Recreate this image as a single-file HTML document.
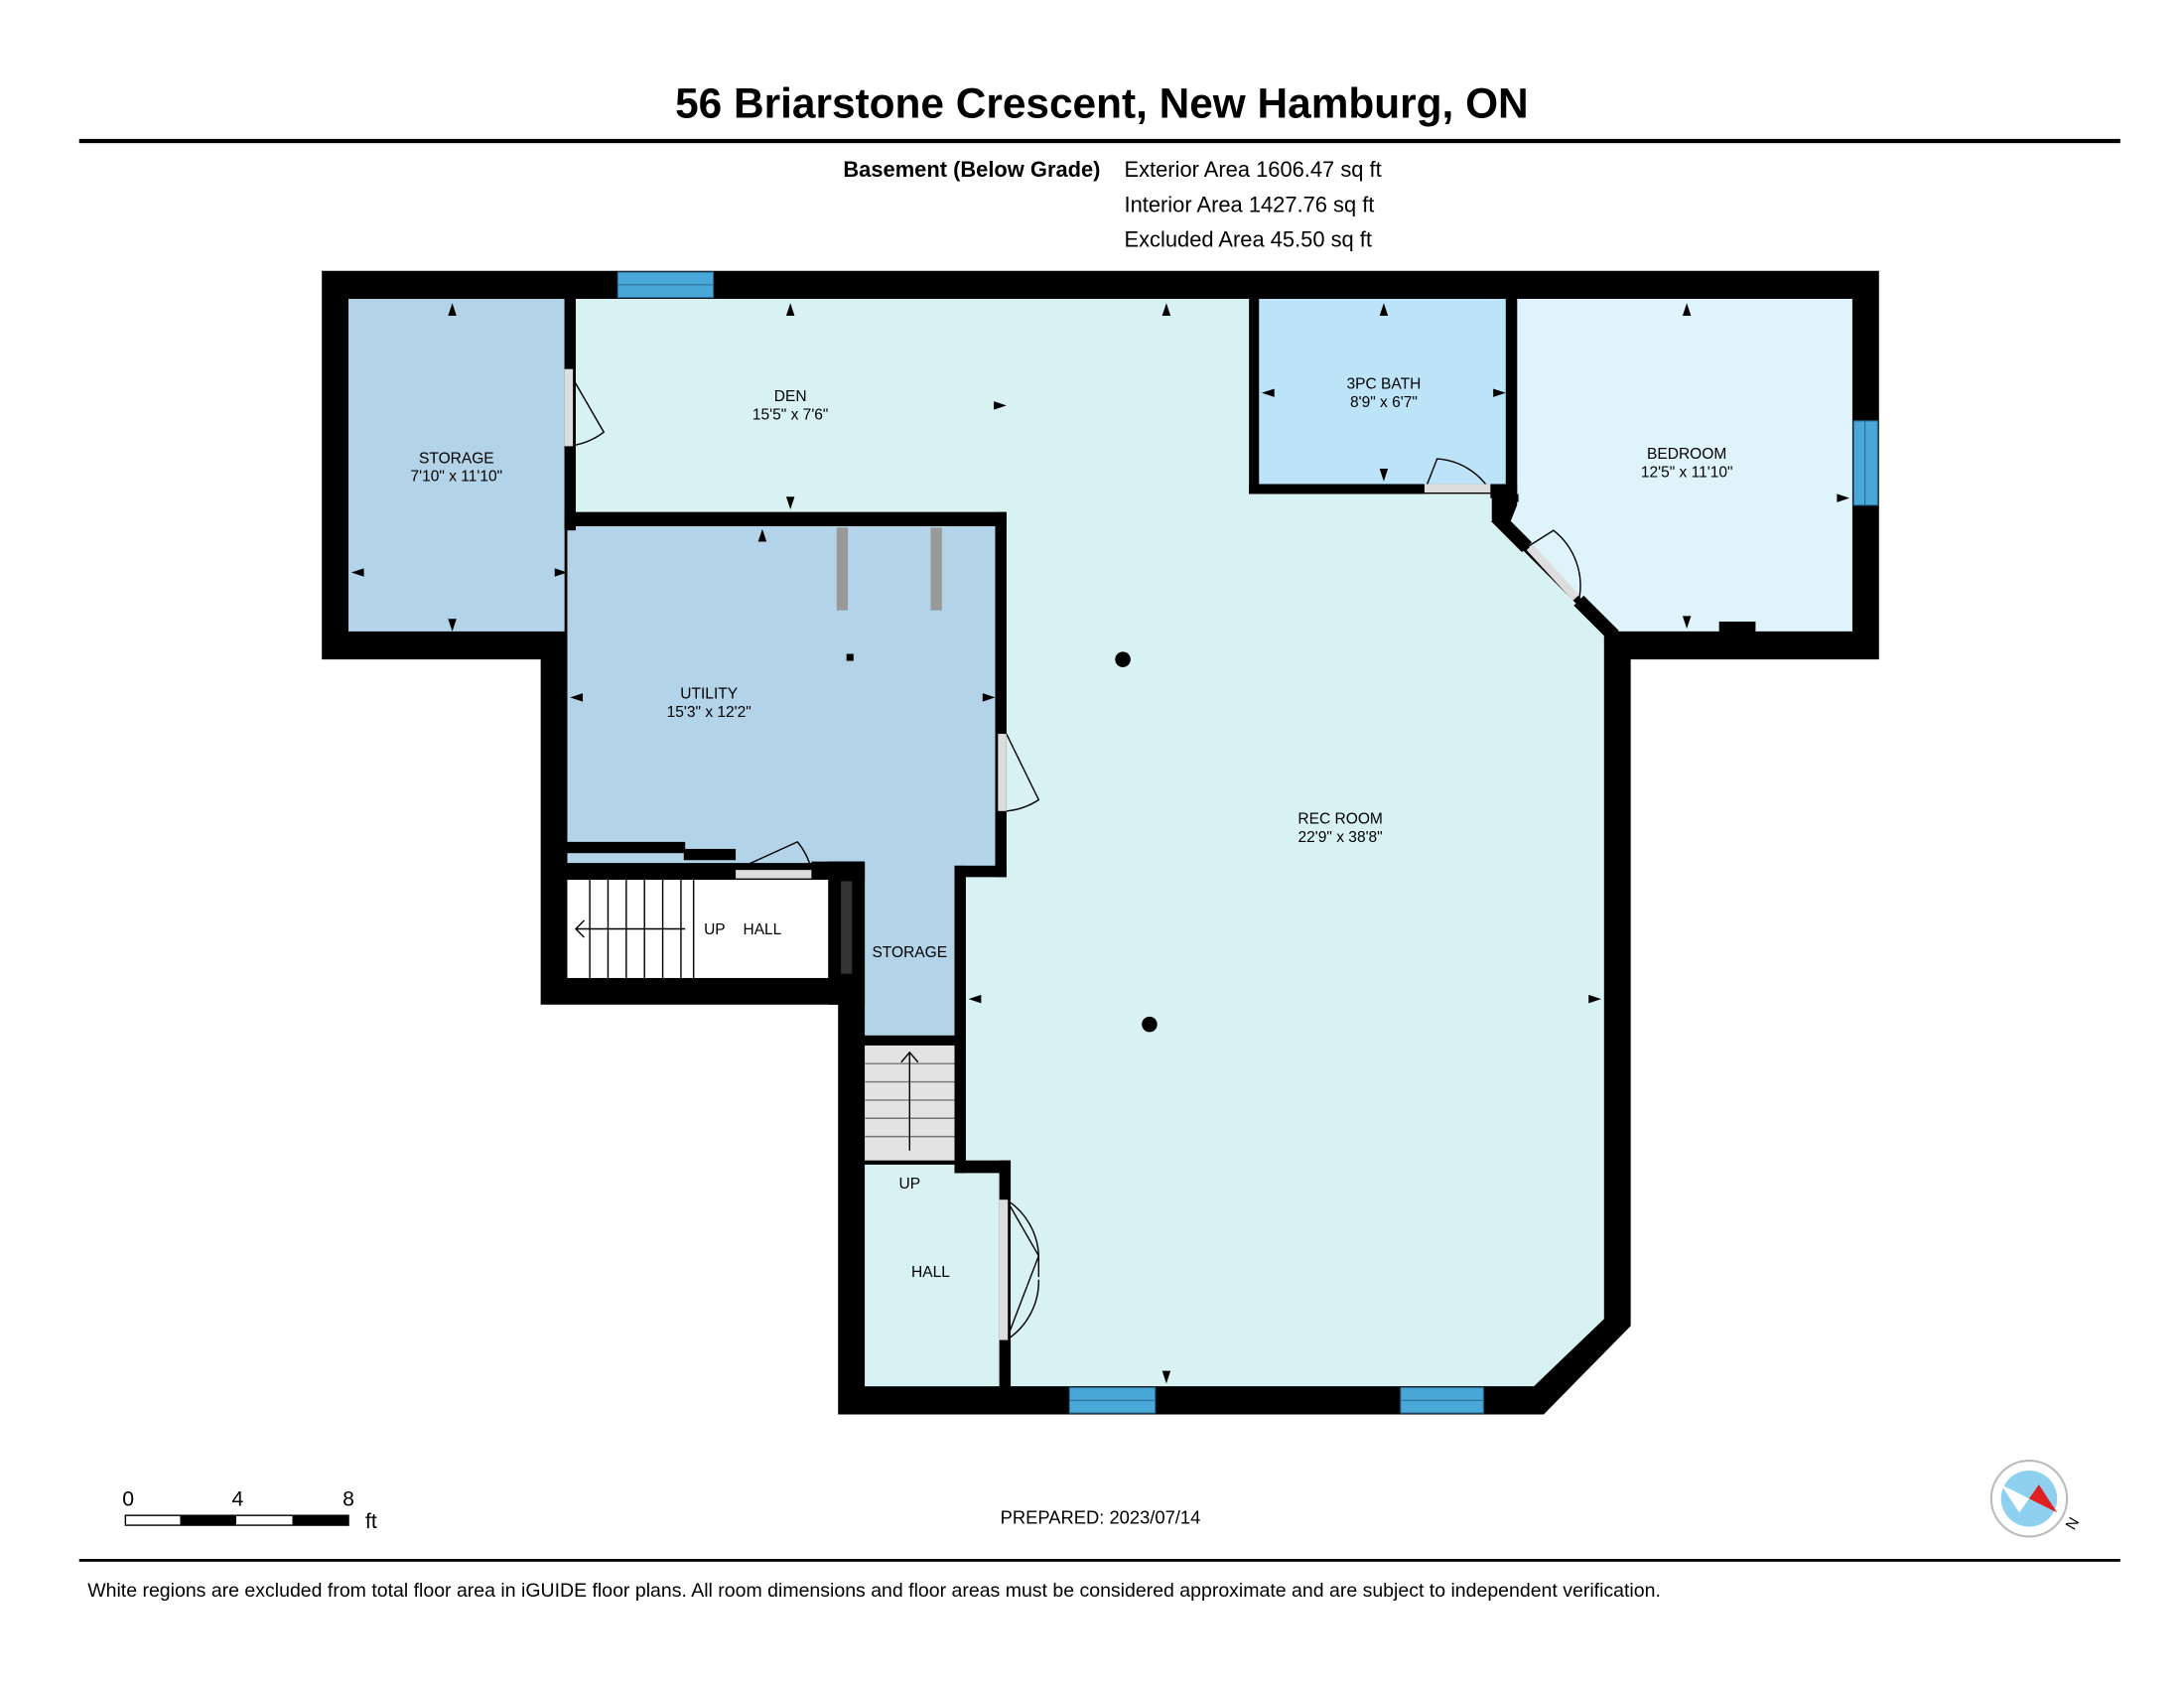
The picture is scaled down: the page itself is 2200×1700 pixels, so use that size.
<!DOCTYPE html>
<html><head><meta charset="utf-8"><style>
html,body{margin:0;padding:0;background:#fff;}
svg{display:block;}
text{font-family:"Liberation Sans",sans-serif;fill:#000;}
</style></head><body>
<svg width="2200" height="1700" viewBox="0 0 1556 1203" xmlns="http://www.w3.org/2000/svg">
<rect width="1556" height="1203" fill="#fff"/>
<text x="785" y="84" font-size="30" font-weight="bold" text-anchor="middle">56 Briarstone Crescent, New Hamburg, ON</text>
<rect x="56" y="99" width="1455" height="3" fill="#000"/>
<text x="784" y="126" font-size="15.5" font-weight="bold" text-anchor="end">Basement (Below Grade)</text>
<text x="801" y="126" font-size="15.5">Exterior Area 1606.47 sq ft</text>
<text x="801" y="151" font-size="15.5">Interior Area 1427.76 sq ft</text>
<text x="801" y="176" font-size="15.5">Excluded Area 45.50 sq ft</text>

<polygon points="229,193 1339,193 1339,470 1162,470 1162,945 1100,1008 597,1008 597,716 385,716 385,470 229,470" fill="#000"/>
<rect x="248" y="213" width="154" height="237" fill="#b3d3e8"/>
<polygon points="404,375 709,375 709,617 680,617 680,738 616,738 616,615 404,615" fill="#b3d3e8"/>
<polygon points="410,213 890,213 890,352 1063,352 1063,370 1143,450 1143,940 1093,988 720,988 720,836 688,836 688,625 717,625 717,365 410,365" fill="#d8f1f2"/>
<rect x="897" y="213" width="176" height="132" fill="#bde3f9"/>
<polygon points="1081,213 1320,213 1320,450 1150,450 1075,375 1081,360" fill="#dff3fb"/>
<rect x="404" y="627" width="186" height="70" fill="#fff"/>
<rect x="616" y="745" width="64" height="82" fill="#e3e3e3"/>
<g stroke="#777" stroke-width="1">
<line x1="616" y1="758" x2="680" y2="758"/><line x1="616" y1="771" x2="680" y2="771"/><line x1="616" y1="784" x2="680" y2="784"/><line x1="616" y1="797" x2="680" y2="797"/><line x1="616" y1="810" x2="680" y2="810"/>
</g>
<line x1="648" y1="820" x2="648" y2="750" stroke="#000"/>
<path d="M642,757 L648,750 L654,757" fill="none" stroke="#000"/>
<rect x="616" y="830" width="96" height="158" fill="#d8f1f2"/>

<g fill="#000">
<rect x="402" y="213" width="8" height="50"/>
<rect x="402" y="318" width="8" height="60"/>
<rect x="402" y="365" width="315" height="10"/>
<rect x="709" y="365" width="8" height="158"/>
<rect x="709" y="578" width="8" height="47"/>
<rect x="680" y="617" width="37" height="8"/>
<rect x="680" y="617" width="8" height="219"/>
<rect x="680" y="827" width="40" height="9"/>
<rect x="712" y="827" width="8" height="28"/>
<rect x="712" y="955" width="8" height="33"/>
<rect x="404" y="600" width="84" height="8"/>
<rect x="487" y="605" width="37" height="8"/>
<rect x="404" y="619" width="120" height="8"/>
<rect x="578" y="614" width="38" height="13"/>
<rect x="590" y="614" width="26" height="102"/>
<rect x="616" y="738" width="64" height="7"/>
<rect x="890" y="213" width="7" height="139"/>
<rect x="890" y="345" width="125" height="7"/>
<rect x="1073" y="213" width="8" height="142"/>
<rect x="1062" y="345" width="19" height="10"/>
<rect x="1225" y="443" width="26" height="10"/>
</g>
<line x1="1066" y1="368" x2="1088" y2="390" stroke="#000" stroke-width="10"/>
<line x1="1125" y1="428" x2="1150" y2="453" stroke="#000" stroke-width="10"/>
<rect x="599" y="628" width="8" height="66" fill="#333"/>
<rect x="596" y="376" width="8" height="59" fill="#999"/>
<rect x="663" y="376" width="8" height="59" fill="#999"/>
<rect x="603" y="466" width="5" height="5" fill="#000"/>
<circle cx="800" cy="470" r="5.5" fill="#000"/>
<circle cx="819" cy="730" r="5.5" fill="#000"/>

<g stroke="#000" stroke-width="1">
<line x1="420" y1="627" x2="420" y2="697"/><line x1="433" y1="627" x2="433" y2="697"/><line x1="446" y1="627" x2="446" y2="697"/><line x1="459" y1="627" x2="459" y2="697"/><line x1="472" y1="627" x2="472" y2="697"/><line x1="485" y1="627" x2="485" y2="697"/><line x1="494" y1="627" x2="494" y2="697"/>
<line x1="410" y1="662" x2="488" y2="662"/>
<path d="M416,656 L410,662 L416,668" fill="none"/>
</g>

<g fill="none" stroke="#000" stroke-width="1">
<path d="M404,263 L430,308 A50,50 0 0 1 404,318"/>
<path d="M717,523 L740,570 A50,50 0 0 1 717,578"/>
<path d="M524,620 L568,600 A48,48 0 0 1 578,620"/>
<path d="M1015,350 L1024,327 A48,48 0 0 1 1062,350"/>
<path d="M1088,390 L1107,378 A50,50 0 0 1 1125,428"/>
<path d="M717,855 L740,895 L717,955 M740,895 L740,910"/>
<path d="M717,855 A50,50 0 0 1 740,895 M717,955 A50,50 0 0 0 740,912"/>
</g>
<g fill="#ddd">
<rect x="402" y="263" width="6" height="55"/>
<rect x="711" y="523" width="6" height="55"/>
<rect x="524" y="620" width="54" height="6"/>
<rect x="1015" y="345" width="47" height="6"/>
<rect x="712" y="855" width="6" height="100"/>
</g>
<line x1="1090" y1="390" x2="1123" y2="426" stroke="#ddd" stroke-width="6"/>

<g fill="#4aa8d8" stroke="#2a6f99" stroke-width="0.8">
<rect x="440" y="194" width="68" height="18"/>
<rect x="1321" y="300" width="17" height="60"/>
<rect x="762" y="989" width="61" height="18"/>
<rect x="998" y="989" width="59" height="18"/>
</g>
<g stroke="#2a6f99" stroke-width="0.8">
<line x1="440" y1="203" x2="508" y2="203"/><line x1="1329" y1="300" x2="1329" y2="360"/>
<line x1="762" y1="998" x2="823" y2="998"/><line x1="998" y1="998" x2="1057" y2="998"/>
</g>

<g fill="#000">
<path d="M322,216 l-3,9 h6z"/><path d="M322,450 l-3,-9 h6z"/><path d="M250,408 l9,-3 v6z"/><path d="M404,408 l-9,-3 v6z"/>
<path d="M563,216 l-3,9 h6z"/><path d="M831,216 l-3,9 h6z"/><path d="M563,363 l-3,-9 h6z"/><path d="M717,289 l-9,-3 v6z"/>
<path d="M543,377 l-3,9 h6z"/><path d="M406,497 l9,-3 v6z"/><path d="M709,497 l-9,-3 v6z"/>
<path d="M986,216 l-3,9 h6z"/><path d="M986,343 l-3,-9 h6z"/><path d="M899,280 l9,-3 v6z"/><path d="M1073,280 l-9,-3 v6z"/>
<path d="M1202,216 l-3,9 h6z"/><path d="M1202,448 l-3,-9 h6z"/><path d="M1073,355 l9,-3 v6z"/><path d="M1318,355 l-9,-3 v6z"/>
<path d="M690,712 l9,-3 v6z"/><path d="M1141,712 l-9,-3 v6z"/><path d="M831,986 l-3,-9 h6z"/>
</g>

<g font-size="11" text-anchor="middle">
<text x="325" y="330">STORAGE</text><text x="325" y="343">7'10" x 11'10"</text>
<text x="563" y="286">DEN</text><text x="563" y="299">15'5" x 7'6"</text>
<text x="986" y="277">3PC BATH</text><text x="986" y="290">8'9" x 6'7"</text>
<text x="1202" y="327">BEDROOM</text><text x="1202" y="340">12'5" x 11'10"</text>
<text x="505" y="498">UTILITY</text><text x="505" y="511">15'3" x 12'2"</text>
<text x="955" y="587">REC ROOM</text><text x="955" y="600">22'9" x 38'8"</text>
<text x="509" y="666">UP</text><text x="543" y="666">HALL</text>
<text x="648" y="682">STORAGE</text>
<text x="648" y="847">UP</text>
<text x="663" y="910">HALL</text>
</g>

<text x="91" y="1073" font-size="15" text-anchor="middle">0</text>
<text x="169" y="1073" font-size="15" text-anchor="middle">4</text>
<text x="248" y="1073" font-size="15" text-anchor="middle">8</text>
<text x="260" y="1089" font-size="15">ft</text>
<rect x="89" y="1080" width="159" height="7" fill="#fff" stroke="#000" stroke-width="1"/>
<rect x="128" y="1080" width="40" height="7" fill="#000"/>
<rect x="208" y="1080" width="40" height="7" fill="#000"/>
<text x="784" y="1086" font-size="13" text-anchor="middle">PREPARED: 2023/07/14</text>
<circle cx="1446" cy="1068" r="27" fill="#fff" stroke="#bbb" stroke-width="1.5"/>
<circle cx="1446" cy="1068" r="20" fill="#8fd0f0"/>
<polygon points="1446,1068 1466,1078 1453,1058" fill="#e02020"/>
<polygon points="1446,1068 1426,1058 1439,1078" fill="#fff"/>
<text x="1478" y="1091" font-size="11" transform="rotate(-60 1478 1091)">N</text>

<rect x="56" y="1111" width="1455" height="2" fill="#000"/>
<text x="62" y="1138" font-size="13.8">White regions are excluded from total floor area in iGUIDE floor plans. All room dimensions and floor areas must be considered approximate and are subject to independent verification.</text>
</svg>
</body></html>
